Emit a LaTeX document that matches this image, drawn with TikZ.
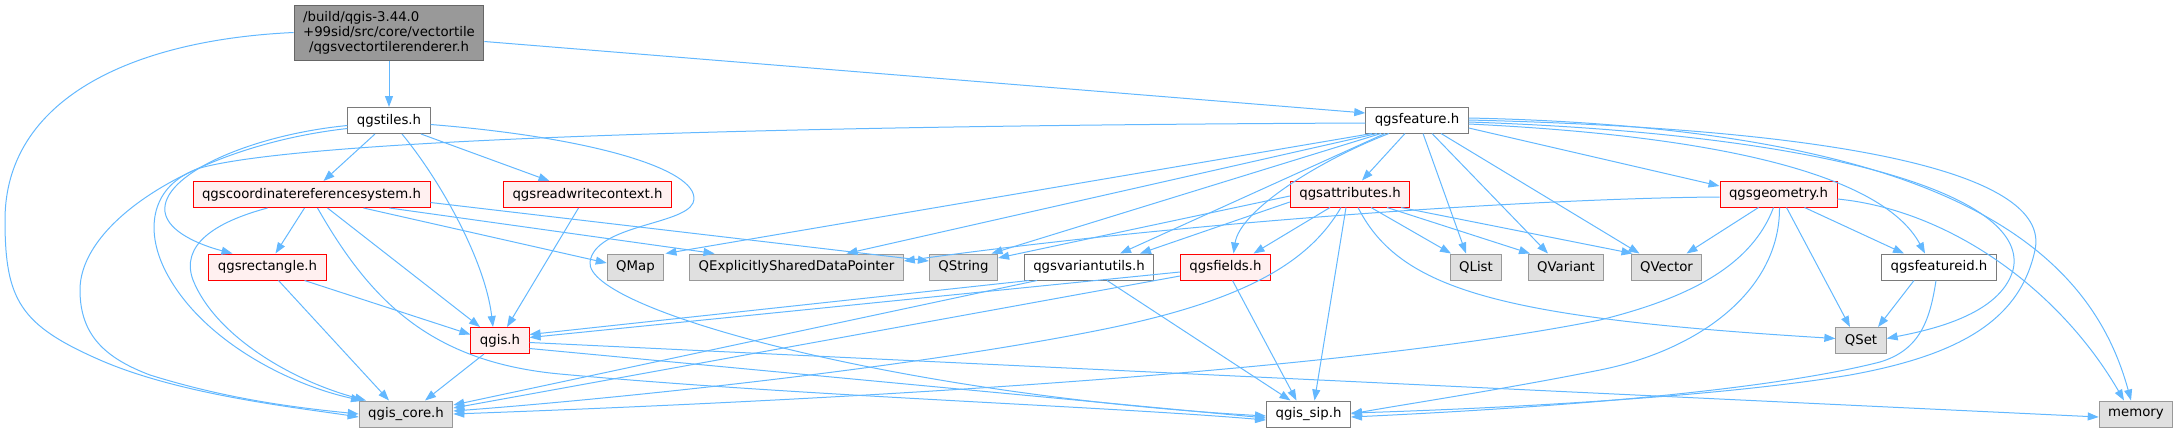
\documentclass[tikz,border=0pt]{standalone}
\usepackage{fontspec}
\setmainfont{DejaVu Sans}
\usetikzlibrary{arrows.meta}
\definecolor{edgeblue}{HTML}{63B8FF}
\definecolor{rootfill}{HTML}{999999}
\definecolor{rootline}{HTML}{666666}
\definecolor{hdrline}{HTML}{7A7A7A}
\definecolor{truncfill}{HTML}{FFF0F0}
\definecolor{sysfill}{HTML}{E0E0E0}
\definecolor{sysline}{HTML}{999999}

\begin{document}
\begin{tikzpicture}[x=1pt,y=-1pt,
    hdr/.style={draw=hdrline,fill=white,line width=1pt,minimum height=26pt,inner xsep=9pt,inner ysep=0pt,
      font=\fontsize{13.3}{15}\selectfont},
    mainhdr/.style={hdr,draw=rootline,fill=rootfill,minimum height=55pt,align=center},
    trunchdr/.style={hdr,draw=red,fill=truncfill},
    syshdr/.style={hdr,draw=sysline,fill=sysfill},
    edge/.style={draw=edgeblue,line width=1pt,-{Triangle[length=11pt,width=8pt]}}]
  \useasboundingbox (0,0) rectangle (2180,432);
  % Headers
  \node[mainhdr] (root) at (389,32.5) {\rlap{/build/qgis-3.44.0}\phantom{+99sid/src/core/vectortile}\\+99sid/src/core/vectortile\\/qgsvectortilerenderer.h};
  \node[hdr] (tiles) at (389,120.5) {qgstiles.h};
  \node[hdr] (feature) at (1417,120) {qgsfeature.h};
  \node[trunchdr] (crs) at (311.5,194.5) {qgscoordinatereferencesystem.h};
  \node[trunchdr] (rwc) at (587.5,194.5) {qgsreadwritecontext.h};
  \node[trunchdr] (attrs) at (1350,194) {qgsattributes.h};
  \node[trunchdr] (geom) at (1778.5,194) {qgsgeometry.h};
  \node[trunchdr] (rect) at (267.5,267) {qgsrectangle.h};
  \node[syshdr] (qmap) at (635.5,267) {QMap};
  \node[syshdr] (qesdp) at (796.5,267) {QExplicitlySharedDataPointer};
  \node[syshdr] (qstring) at (963.5,267) {QString};
  \node[hdr] (varutils) at (1089,267) {qgsvariantutils.h};
  \node[trunchdr] (fields) at (1225.5,267) {qgsfields.h};
  \node[syshdr] (qlist) at (1476,267) {QList};
  \node[syshdr] (qvariant) at (1566,267) {QVariant};
  \node[syshdr] (qvector) at (1666.5,267) {QVector};
  \node[hdr] (featid) at (1939,267) {qgsfeatureid.h};
  \node[trunchdr] (qgis) at (500,340.5) {qgis.h};
  \node[syshdr] (qset) at (1861,340.5) {QSet};
  \node[syshdr] (core) at (406,414) {qgis\_core.h};
  \node[hdr] (sip) at (1308.5,414) {qgis\_sip.h};
  \node[syshdr] (memory) at (2136,414) {memory};
  % Includes of the main file
  \draw[edge] (root.west) .. controls (130,40) and (5,100) .. (5,220) .. controls (5,300) and (20,325) .. (100,360) .. controls (180,395) and (300,408) .. ([yshift=-3pt]core.west);
  \draw[edge] (root) -- (tiles);
  \draw[edge] ([yshift=-9pt]root.east) -- ([yshift=7pt]feature.west);
  % qgstiles.h
  \draw[edge] ([xshift=-14pt]tiles.south) -- ([xshift=12pt]crs.north);
  \draw[edge] ([xshift=13pt]tiles.south) .. controls (440,180) and (485,260) .. ([xshift=-7pt]qgis.north);
  \draw[edge] ([xshift=32pt]tiles.south) -- ([xshift=-38pt]rwc.north);
  \draw[edge] ([yshift=-5pt]tiles.west) .. controls (250,135) and (160,175) .. (165,212) .. controls (168,232) and (200,245) .. ([xshift=-35pt]rect.north);
  \draw[edge] ([yshift=-8pt]tiles.west) .. controls (200,145) and (80,220) .. (80,290) .. controls (80,335) and (105,358) .. (150,375) .. controls (230,400) and (300,408) .. (core.west);
  \draw[edge] ([yshift=-4pt]tiles.east) .. controls (600,138) and (705,172) .. (693,203) .. controls (683,225) and (595,225) .. (590,262) .. controls (585,310) and (900,395) .. ([yshift=-2pt]sip.west);
  % qgscoordinatereferencesystem.h
  \draw[edge] ([xshift=-7pt]crs.south) -- ([xshift=8pt]rect.north);
  \draw[edge] ([xshift=16pt]crs.south) -- ([xshift=-20pt]qgis.north);
  \draw[edge] ([xshift=-44pt]crs.south) .. controls (215,222) and (180,245) .. (193,280) .. controls (215,335) and (290,380) .. ([xshift=-40pt]core.north);
  \draw[edge] ([xshift=6pt]crs.south) .. controls (370,300) and (430,362) .. (560,374) .. controls (800,396) and (1100,406) .. ([yshift=-6pt]sip.west);
  \draw[edge] ([xshift=52pt]crs.south) -- ([yshift=4pt]qmap.west);
  \draw[edge] ([xshift=78pt]crs.south) -- ([xshift=-82pt]qesdp.north);
  \draw[edge] ([yshift=-8pt]crs.east) -- ([yshift=6pt]qstring.west);
  % qgsreadwritecontext.h, qgsrectangle.h, qgis.h
  \draw[edge] ([xshift=-9pt]rwc.south) -- ([xshift=7pt]qgis.north);
  \draw[edge] ([xshift=37pt]rect.south) -- ([yshift=6pt]qgis.west);
  \draw[edge] ([xshift=11pt]rect.south) -- ([xshift=-17pt]core.north);
  \draw[edge] ([xshift=-16pt]qgis.south) -- ([xshift=19pt]core.north);
  \draw[edge] ([yshift=-8pt]qgis.east) -- ([yshift=-4pt]sip.west);
  \draw[edge] ([yshift=-2pt]qgis.east) -- ([yshift=-3pt]memory.west);
  % qgsfeature.h
  \draw[edge] ([yshift=-3pt]feature.west) .. controls (900,125) and (320,135) .. (200,168) .. controls (150,185) and (145,230) .. (165,270) .. controls (200,340) and (290,385) .. ([xshift=-44pt]core.north);
  \draw[edge] ([xshift=-45pt]feature.south) -- ([xshift=30pt]qmap.north);
  \draw[edge] ([xshift=-40pt]feature.south) -- ([xshift=50pt]qesdp.north);
  \draw[edge] ([xshift=-36pt]feature.south) -- ([xshift=28pt]qstring.north);
  \draw[edge] ([xshift=-32pt]feature.south) -- ([xshift=31pt]varutils.north);
  \draw[edge] ([xshift=-28pt]feature.south) .. controls (1320,160) and (1240,210) .. ([xshift=8pt]fields.north);
  \draw[edge] ([xshift=-12pt]feature.south) -- ([xshift=12pt]attrs.north);
  \draw[edge] ([xshift=6pt]feature.south) -- ([xshift=-10pt]qlist.north);
  \draw[edge] ([xshift=15pt]feature.south) -- ([xshift=-18pt]qvariant.north);
  \draw[edge] ([xshift=24pt]feature.south) -- ([xshift=-27pt]qvector.north);
  \draw[edge] ([yshift=-8pt]feature.east) -- ([yshift=8pt]geom.west);
  \draw[edge] ([yshift=-4pt]feature.east) .. controls (1700,135) and (1880,170) .. ([xshift=-14pt]featid.north);
  \draw[edge] ([yshift=-2pt]feature.east) .. controls (1850,135) and (2030,200) .. (2013,270) .. controls (2000,315) and (1930,330) .. ([yshift=2pt]qset.east);
  \draw[edge] (feature.east) .. controls (1880,130) and (2050,180) .. (2035,250) .. controls (2020,320) and (1960,355) .. (1850,375) .. controls (1700,400) and (1450,410) .. ([yshift=1pt]sip.east);
  \draw[edge] ([yshift=2pt]feature.east) .. controls (1950,128) and (2090,250) .. ([xshift=-5pt]memory.north);
  % qgsattributes.h
  \draw[edge] ([yshift=-2pt]attrs.west) -- ([yshift=9pt]qstring.east);
  \draw[edge] ([yshift=-8pt]attrs.west) -- ([xshift=51pt]varutils.north);
  \draw[edge] ([xshift=-20pt]attrs.south) -- ([xshift=28pt]fields.north);
  \draw[edge] ([xshift=21pt]attrs.south) -- ([xshift=-25pt]qlist.north);
  \draw[edge] ([xshift=37pt]attrs.south) -- ([xshift=-36pt]qvariant.north);
  \draw[edge] ([xshift=51pt]attrs.south) -- ([xshift=-34pt]qvector.north);
  \draw[edge] ([xshift=8pt]attrs.south) .. controls (1400,290) and (1500,318) .. ([yshift=2pt]qset.west);
  \draw[edge] ([xshift=-4pt]attrs.south) -- ([xshift=6pt]sip.north);
  \draw[edge] ([xshift=-9pt]attrs.south) .. controls (1310,260) and (1250,300) .. (1100,330) .. controls (900,370) and (600,400) .. ([yshift=3pt]core.east);
  % qgsgeometry.h
  \draw[edge] ([yshift=-3pt]geom.west) .. controls (1550,198) and (1200,220) .. ([yshift=6pt]qesdp.east);
  \draw[edge] ([xshift=-20pt]geom.south) -- ([xshift=20pt]qvector.north);
  \draw[edge] ([xshift=8pt]geom.south) -- ([xshift=-11pt]qset.north);
  \draw[edge] ([xshift=26pt]geom.south) -- ([xshift=-35pt]featid.north);
  \draw[edge] ([yshift=-5pt]geom.east) .. controls (1950,210) and (2060,290) .. ([xshift=-12pt]memory.north);
  \draw[edge] ([xshift=1pt]geom.south) .. controls (1780,290) and (1700,350) .. (1600,370) .. controls (1500,390) and (1400,405) .. (sip.east);
  \draw[edge] ([xshift=-5pt]geom.south) .. controls (1750,270) and (1680,300) .. (1600,320) .. controls (1300,380) and (700,405) .. (core.east);
  % qgsfeatureid.h
  \draw[edge] ([xshift=-25pt]featid.south) -- ([xshift=17pt]qset.north);
  \draw[edge] ([xshift=-3pt]featid.south) .. controls (1930,320) and (1920,350) .. (1880,362) .. controls (1750,395) and (1500,410) .. ([yshift=-3pt]sip.east);
  % qgsvariantutils.h and qgsfields.h
  \draw[edge] ([xshift=-60pt]varutils.south) -- ([yshift=6pt]qgis.east);
  \draw[edge] ([xshift=-52pt]varutils.south) -- ([yshift=9pt]core.east);
  \draw[edge] ([xshift=18pt]varutils.south) -- ([xshift=-18pt]sip.north);
  \draw[edge] ([yshift=-5pt]fields.west) -- ([yshift=3pt]qgis.east);
  \draw[edge] ([yshift=-9pt]fields.west) -- ([yshift=6pt]core.east);
  \draw[edge] ([xshift=7pt]fields.south) -- ([xshift=-12pt]sip.north);
\end{tikzpicture}
\end{document}
